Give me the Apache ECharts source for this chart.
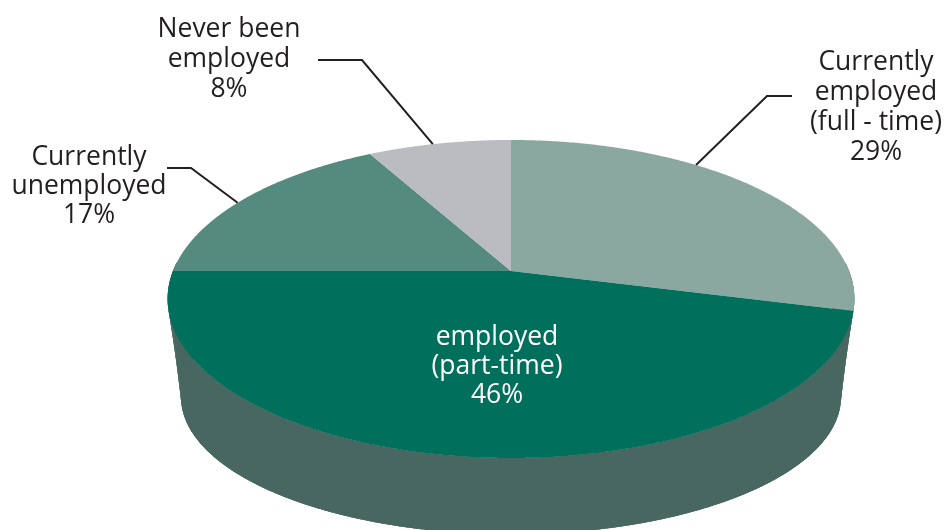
<!DOCTYPE html>
<html><head><meta charset="utf-8">
<script src="https://cdn.jsdelivr.net/npm/echarts@6.0.0/dist/echarts.min.js"></script>
<style>html,body{margin:0;padding:0;background:#fff}#c{width:948px;height:530px}</style>
</head><body><div id="c"></div>
<script>
// ---- data ----
const categories = ['Currently employed (full - time)', 'employed (part-time)', 'Currently unemployed', 'Never been employed'];
const labelLines = [['Currently', 'employed', '(full - time)'], ['employed', '(part-time)'], ['Currently', 'unemployed'], ['Never been', 'employed']];
const values = [29, 46, 17, 8];

// ---- styles ----
const topColors = ['#8ba8a0', '#006f5c', '#558a7f', '#bbbcc0'];
const sideColors = ['#6a857e', '#486760', '#3f6b61', '#8e8f93'];
const textColor = '#231f20';
const FONT = '"Open Sans", "DejaVu Sans", sans-serif';

// perspective geometry of the tilted disc (top face and bottom rim)
const geo = {cx: 511, cy: 271, A: 338, B: 154.1, p: 0.1761, cyB: 355.8, Ab: 314.8, Bb: 125, pb: 0.3};
function topPt(a) { const u = Math.sin(a), v = Math.cos(a), w = 1 + geo.p * v; return [geo.cx + geo.A * u / w, geo.cy - geo.B * v / w]; }
function botPt(a) { const u = Math.sin(a), v = Math.cos(a), w = 1 + geo.pb * v; return [geo.cx + geo.Ab * u / w, geo.cyB - geo.Bb * v / w]; }

// label layout (positions are layout, not data)
const labelLayout = [
  {text: [876, 107], lineHeight: 30, color: textColor, anchorFrac: 0.369, elbow: [767, 96], end: [792, 96]},
  {text: [497, 366], lineHeight: 29, color: '#ffffff'},
  {text: [89, 186], lineHeight: 29, color: textColor, anchorFrac: 0.469, elbow: [191, 168], end: [167, 168]},
  {text: [229, 59], lineHeight: 30, color: textColor, anchorFrac: 0.455, elbow: [362, 60], end: [318, 60]}
];

const total = values.reduce((s, v) => s + v, 0);
function sliceAngles(i) {
  let s = 0; for (let k = 0; k < i; k++) s += values[k];
  return [s / total * 2 * Math.PI, (s + values[i]) / total * 2 * Math.PI];
}
const seriesData = values.map((v, i) => ({name: categories[i], value: [v, i]}));

const wallSeries = {
  type: 'custom', coordinateSystem: 'none', z: 1, silent: true, data: seriesData,
  renderItem(params, api) {
    const i = api.value(1);
    const [a0, a1] = sliceAngles(i);
    const step = Math.PI / 360;
    const children = [];
    let vis0 = null, vis1 = null;
    for (let t = a0; t < a1 - 1e-9; t += step) {
      const t1 = Math.min(a1, t + step);
      const mid = (t + t1) / 2;
      if (Math.cos(mid) > 0.05) continue; // back wall is hidden
      if (vis0 === null) vis0 = t;
      vis1 = t1;
      const t1e = Math.min(a1, t1 + step * 0.6);
      children.push({type: 'polygon', shape: {points: [topPt(t), topPt(t1e), botPt(t1e), botPt(t)]},
        style: {fill: sideColors[i]}});
    }
    if (vis0 !== null) {
      // one band polygon over the quads to hide seams
      const n = Math.max(4, Math.ceil((vis1 - vis0) / step));
      const pts = [];
      for (let k = 0; k <= n; k++) pts.push(topPt(vis0 + (vis1 - vis0) * k / n));
      for (let k = n; k >= 0; k--) pts.push(botPt(vis0 + (vis1 - vis0) * k / n));
      children.push({type: 'polygon', shape: {points: pts}, style: {fill: sideColors[i]}});
    }
    return {type: 'group', children};
  }
};

const topSeries = {
  type: 'custom', coordinateSystem: 'none', z: 2, silent: true, data: seriesData,
  renderItem(params, api) {
    const i = api.value(1);
    const [a0, a1] = sliceAngles(i);
    const n = Math.max(8, Math.ceil((a1 - a0) / (Math.PI / 360)));
    const pts = [[geo.cx, geo.cy]];
    for (let k = 0; k <= n; k++) pts.push(topPt(a0 + (a1 - a0) * k / n));
    return {type: 'polygon', shape: {points: pts}, style: {fill: topColors[i]}};
  }
};

const labelSeries = {
  type: 'custom', coordinateSystem: 'none', z: 3, silent: true, data: seriesData,
  renderItem(params, api) {
    const i = api.value(1);
    const lay = labelLayout[i];
    const [a0, a1] = sliceAngles(i);
    const children = [];
    if (lay.anchorFrac !== undefined) {
      const anchor = topPt(a0 + (a1 - a0) * lay.anchorFrac);
      children.push({type: 'polyline', shape: {points: [anchor, lay.elbow, lay.end]},
        style: {stroke: textColor, lineWidth: 2, fill: null}});
    }
    children.push({type: 'text', x: lay.text[0], y: lay.text[1],
      style: {text: labelLines[i].concat([api.value(0) + '%']).join('\n'),
        fill: lay.color, fontSize: 26.5, fontFamily: FONT, align: 'center', verticalAlign: 'middle',
        lineHeight: lay.lineHeight}});
    return {type: 'group', children};
  }
};

const chart = echarts.init(document.getElementById('c'), null, {renderer: 'canvas'});
chart.setOption({
  backgroundColor: '#ffffff',
  animation: false,
  series: [wallSeries, topSeries, labelSeries]
});
</script>
</body></html>
